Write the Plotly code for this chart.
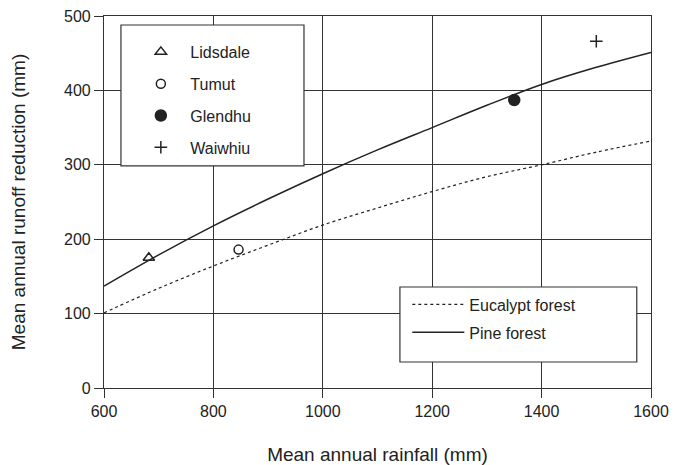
import plotly.graph_objects as go

# Curves
rain_curve = [600, 700, 800, 900, 1000, 1100, 1200, 1300, 1400, 1500, 1600]
pine = [137, 179, 218, 254, 288, 320, 350, 380, 408, 431, 451]
eucalypt = [101, 134, 164, 192, 219, 242, 264, 284, 300, 317, 332]

# Catchment observations
sites = ["Lidsdale", "Tumut", "Glendhu", "Waiwhiu"]
site_rain = [682, 846, 1350, 1500]
site_reduction = [175, 186, 387, 466]
site_symbols = ["triangle-up-open", "circle-open", "circle", "cross-thin-open"]
site_sizes = [10, 9, 11, 9]

x_ticks = [600, 800, 1000, 1200, 1400, 1600]
y_ticks = [0, 100, 200, 300, 400, 500]

INK = "#222222"
FONT = "Liberation Sans, Arial, Helvetica, sans-serif"
FS = 16

fig = go.Figure()

fig.add_trace(go.Scatter(x=rain_curve, y=eucalypt, mode="lines", name="Eucalypt forest",
                         line=dict(color=INK, width=1.2, dash="dot", shape="spline"),
                         legend="legend2", legendgroup="e"))
fig.add_trace(go.Scatter(x=rain_curve, y=pine, mode="lines", name="Pine forest",
                         line=dict(color=INK, width=1.5, shape="spline"),
                         legend="legend2", legendgroup="p"))

for i, s in enumerate(sites):
    fig.add_trace(go.Scatter(x=[site_rain[i]], y=[site_reduction[i]], mode="markers", name=s,
                             marker=dict(symbol=site_symbols[i], size=site_sizes[i], color=INK,
                                         line=dict(color=INK, width=1.5)),
                             legend="legend", legendgroup=s))

axis_common = dict(showgrid=True, gridcolor="#333333", gridwidth=1.2,
                   showline=True, linecolor="#333333", linewidth=1.2, mirror=True,
                   ticks="outside", ticklen=9, tickcolor="#333333", tickwidth=1.2,
                   zeroline=False, automargin=False)

fig.update_layout(
    width=676, height=465,
    margin=dict(l=104, r=25, t=16, b=77),
    paper_bgcolor="white", plot_bgcolor="white",
    font=dict(family=FONT, size=FS, color=INK),
    xaxis=dict(range=[600, 1600], tickvals=x_ticks,
               title=dict(text="Mean annual rainfall (mm)", standoff=28), **axis_common),
    yaxis=dict(range=[0, 500], tickvals=y_ticks,
               title=dict(text="Mean annual runoff reduction (mm)", standoff=33), **axis_common),
    legend=dict(x=0.05, y=0.949, xanchor="left", yanchor="top", bgcolor="rgba(0,0,0,0)",
                borderwidth=0, traceorder="grouped", tracegroupgap=8, itemwidth=49,
                font=dict(family=FONT, size=FS, color=INK)),
    legend2=dict(x=0.5545, y=0.270, xanchor="left", yanchor="top", bgcolor="rgba(0,0,0,0)",
                 borderwidth=0, traceorder="grouped", tracegroupgap=4, itemwidth=52,
                 font=dict(family=FONT, size=FS, color=INK)),
    shapes=[
        dict(type="rect", xref="paper", yref="paper", x0=0.031, x1=0.3656, y0=0.597, y1=0.9758,
             line=dict(color="#333333", width=1.2), fillcolor="white", layer="above"),
        dict(type="rect", xref="paper", yref="paper", x0=0.541, x1=0.974, y0=0.0699, y1=0.2715,
             line=dict(color="#333333", width=1.2), fillcolor="white", layer="above"),
    ],
)

fig.write_html("out.html")
